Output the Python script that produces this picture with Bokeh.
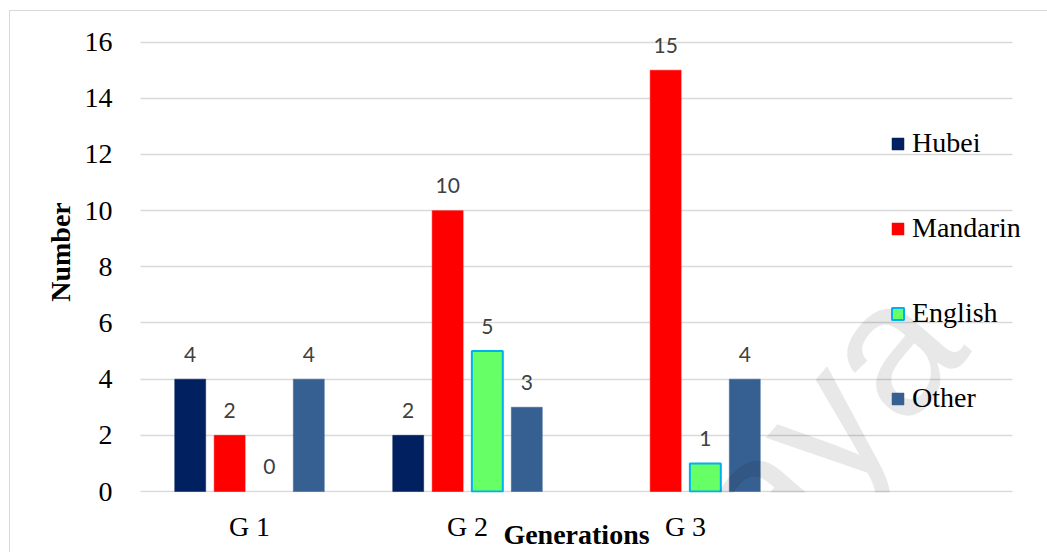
from bokeh.plotting import figure
from bokeh.models import (ColumnDataSource, FixedTicker, Range1d, Label,
                          LabelSet, Legend, LegendItem)
from bokeh.transform import dodge
from bokeh.core.properties import value
from bokeh.embed import file_html
from bokeh.resources import INLINE

# Language use across three generations
generations = ["G 1", "G 2", "G 3"]
series_names = ["Hubei", "Mandarin", "English", "Other"]
hubei = [4, 2, None]
mandarin = [2, 10, 15]
english = [0, 5, 1]
other = [4, 3, 4]
y_ticks = [0, 2, 4, 6, 8, 10, 12, 14, 16]

values = {"Hubei": hubei, "Mandarin": mandarin, "English": english, "Other": other}
fills = {"Hubei": "#002060", "Mandarin": "#FF0000", "English": "#66FF66", "Other": "#376092"}
lines = {"Hubei": None, "Mandarin": None, "English": "#00B0F0", "Other": None}
offsets = {"Hubei": -0.272, "Mandarin": -0.091, "English": 0.091, "Other": 0.272}
bar_width = 0.142

SERIF = "Liberation Serif"

# one category per unit; an empty fourth slot leaves room for the legend
slots = [i + 0.5 for i in range(len(generations))]

p = figure(width=1037, height=541, x_range=Range1d(-0.16055, 4.16055),
           y_range=Range1d(-0.0356, 17.09),
           output_backend="svg", toolbar_location=None,
           min_border_left=95, min_border_right=0, min_border_top=0, min_border_bottom=60,
           margin=(11, 0, 0, 10), styles={"outline": "1.5px solid #d9d9d9"})
p.outline_line_color = None
p.background_fill_color = "white"
p.border_fill_color = "white"

p.xgrid.visible = False
p.ygrid.ticker = FixedTicker(ticks=y_ticks)
p.ygrid.grid_line_color = "#d9d9d9"
p.ygrid.grid_line_width = 1.5
p.ygrid.cross_bounds = (0, 4)

p.yaxis.ticker = FixedTicker(ticks=y_ticks)
p.yaxis.axis_line_color = None
p.yaxis.major_tick_line_color = None
p.yaxis.minor_tick_line_color = None
p.yaxis.major_label_standoff = -13
p.yaxis.major_label_text_font = SERIF
p.yaxis.major_label_text_font_size = "28px"
p.yaxis.major_label_text_color = "black"
p.yaxis.axis_label = "Number"
p.yaxis.axis_label_text_font = SERIF
p.yaxis.axis_label_text_font_style = "bold"
p.yaxis.axis_label_text_font_size = "28px"
p.yaxis.axis_label_text_color = "black"
p.yaxis.axis_label_standoff = 6

p.xaxis.ticker = FixedTicker(ticks=slots)
p.xaxis.major_label_overrides = {s: g for s, g in zip(slots, generations)}
p.xaxis.axis_line_color = None
p.xaxis.major_tick_line_color = None
p.xaxis.minor_tick_line_color = None
p.xaxis.major_label_standoff = 12
p.xaxis.major_label_text_font = SERIF
p.xaxis.major_label_text_font_size = "28px"
p.xaxis.major_label_text_color = "black"
p.xaxis.axis_label = "Generations"
p.xaxis.axis_label_text_font = SERIF
p.xaxis.axis_label_text_font_style = "bold"
p.xaxis.axis_label_text_font_size = "28px"
p.xaxis.axis_label_text_color = "black"
p.xaxis.axis_label_standoff = -26

legend_items = []
for name in series_names:
    vals = [float("nan") if v is None else v for v in values[name]]
    src = ColumnDataSource(dict(x=slots, top=vals,
                                edge=[0 if v == 0 else 1 for v in vals]))
    r = p.vbar(x=dodge("x", offsets[name], range=p.x_range), top="top", width=bar_width,
               source=src, fill_color=fills[name],
               line_color=lines[name] if lines[name] else fills[name],
               line_alpha="edge", line_width=2 if lines[name] else 0.5)
    legend_items.append(LegendItem(label=name, renderers=[r], index=1))

    keep = [i for i, v in enumerate(values[name]) if v is not None]
    lab_src = ColumnDataSource(dict(x=[slots[i] for i in keep],
                                    y=[values[name][i] for i in keep],
                                    txt=[str(values[name][i]) for i in keep]))
    p.add_layout(LabelSet(x=dodge("x", offsets[name], range=p.x_range), y="y", text="txt",
                          source=lab_src, y_offset=25, text_align="center",
                          text_baseline="middle", text_font=value("Lato"),
                          text_font_size="21px", text_color="#404040"))

legend = Legend(items=legend_items, location=(785, 78), orientation="vertical",
                glyph_width=15, glyph_height=15, label_standoff=7, spacing=53,
                label_height=32, padding=0, margin=0, border_line_color=None,
                background_fill_alpha=0, label_text_font=SERIF,
                label_text_font_size="28px", label_text_color="black")
p.add_layout(legend, "center")

# faint watermark across the lower right
p.add_layout(Label(x=3.587, y=6.52, text="Malaya", angle=0.86, text_align="right",
                   text_baseline="alphabetic", text_font="Liberation Sans",
                   text_font_size="190px", text_color="black", text_alpha=0.09))

open("out.html", "w").write(file_html(p, INLINE))
